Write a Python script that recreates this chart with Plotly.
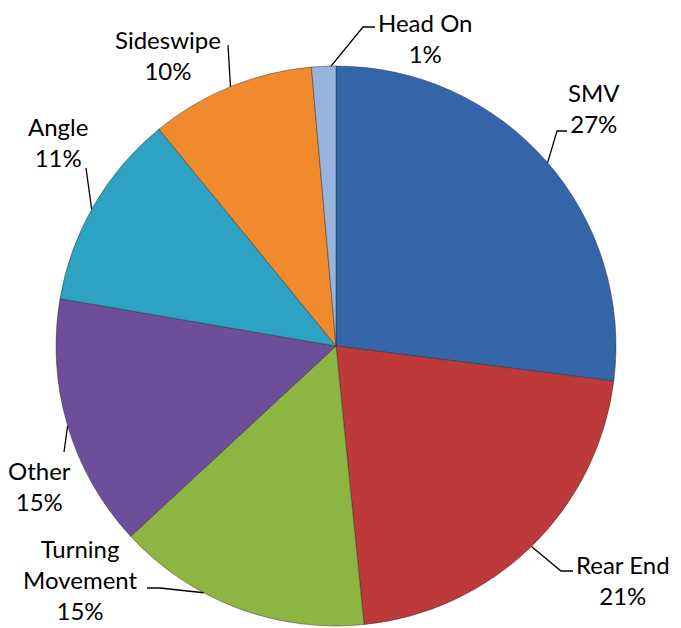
import math
import plotly.graph_objects as go

# ---- data ----
categories = ["SMV", "Rear End", "Turning<br>Movement", "Other", "Angle", "Sideswipe", "Head On"]
values = [27.0, 21.4, 14.7, 14.6, 11.4, 9.5, 1.4]
colors = ["#3565A9", "#BE3A3A", "#8DB541", "#6C4E9B", "#2EA2C2", "#F08A2C", "#98B4DD"]

OFF = 8  # page body margin: screen px = figure px + OFF
W, H = 681 - 2 * OFF, 628 - OFF
SCX, SCY, R = 336, 346, 280  # pie centre (screen px) / radius
CX, CY = SCX - OFF, SCY - OFF


def px(x):
    return (x - OFF) / W


def py(y):
    return 1 - (y - OFF) / H


fig = go.Figure(
    go.Pie(
        labels=categories,
        values=values,
        sort=False,
        direction="clockwise",
        rotation=0,
        marker=dict(colors=colors, line=dict(color="rgba(40,40,40,0.45)", width=1)),
        textinfo="none",
        hoverinfo="label+percent",
        showlegend=False,
        domain=dict(x=[(CX - R) / W, (CX + R) / W],
                    y=[max(0, (H - CY - R) / H), min(1, (H - CY + R) / H)]),
    )
)

# label layout in screen px: text centre, leader points after the edge point, angle offset (deg)
label_style = [
    dict(t=(594, 108), pts=[(557, 131), (567, 131)], off=0.5),
    dict(t=(623, 580), pts=[(561, 571), (573, 571)], off=0),
    dict(t=(80, 579), pts=[(160, 588), (147, 588)], off=7.5),
    dict(t=(39, 486), pts=[(64, 452)], off=0),
    dict(t=(58, 142), pts=[(86, 168)], off=-1),
    dict(t=(168, 55), pts=[(228, 45)], off=0),
    dict(t=(425, 38), pts=[(363, 27), (375, 27)], off=1.5),
]

total = sum(values)
cum = 0.0
shapes = []
annotations = []
for cat, v, st in zip(categories, values, label_style):
    mid = (cum + v / 2) / total * 360 + st["off"]
    cum += v
    ex = SCX + R * math.sin(math.radians(mid))
    ey = SCY - R * math.cos(math.radians(mid))
    pts = [(ex, ey)] + st["pts"]
    path = "M " + " L ".join(f"{px(x):.5f},{py(y):.5f}" for x, y in pts)
    shapes.append(dict(type="path", xref="paper", yref="paper", path=path,
                       line=dict(color="black", width=1.3)))
    pct = int(v / total * 100 + 0.5)
    annotations.append(dict(
        x=px(st["t"][0]), y=py(st["t"][1]), xref="paper", yref="paper",
        text=f"{cat}<br>{pct}%", showarrow=False, xanchor="center", yanchor="middle",
        font=dict(family="Lato, Carlito, Calibri, sans-serif", size=24, color="black"),
    ))

fig.update_layout(
    width=W, height=H,
    margin=dict(l=0, r=0, t=0, b=0),
    paper_bgcolor="white", plot_bgcolor="white",
    shapes=shapes, annotations=annotations,
)

fig.write_html("out.html")
